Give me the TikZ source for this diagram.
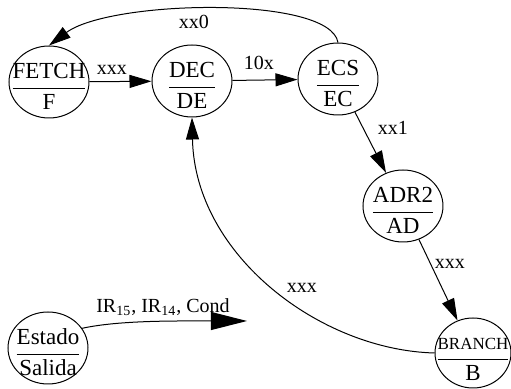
\documentclass[tikz,border=0pt]{standalone}
\usepackage{fontspec}
\setmainfont{Liberation Serif}
\usepackage{tikz}
\usetikzlibrary{shapes.geometric, arrows.meta}

\newcommand{\dosp}[2]{\makebox[0pt]{\raisebox{-6.5pt}[0pt][0pt]{\begin{tabular}{@{}c@{}}#1\\[0.5pt]\hline\rule{0pt}{10.5pt}#2\end{tabular}}}}

\tikzset{
  estado/.style={ellipse, draw, line width=0.5pt, minimum width=40pt, minimum height=36pt, inner sep=0pt, font=\fontsize{11.5}{13}\selectfont},
  etiq/.style={font=\fontsize{10}{12}\selectfont, inner sep=0pt},
  flecha/.style={line width=0.5pt, -{Triangle[length=11pt, width=6.5pt]}}
}

\begin{document}
\begin{tikzpicture}[x=0.5pt, y=-0.5pt]
          \useasboundingbox (0,0) rectangle (511,389);
          \node[estado] (fetch) at (49,82) {\dosp{FETCH}{F}};
          \node[estado] (dec) at (192,81) {\dosp{DEC}{DE}};
          \node[estado] (ecs) at (338,79) {\dosp{ECS}{EC}};
          \node[estado] (adr) at (403,206) {\dosp{ADR2}{AD}};
          \node[estado, minimum width=38pt, minimum height=35pt] (branch) at (473,353) {\dosp{\fontsize{8.5}{10}\selectfont BRANCH}{B}};
          \node[estado] (leyenda) at (48,348) {\dosp{Estado}{Salida}};
          \coordinate (fin) at (247,321);
          \draw[flecha] (fetch) -- (dec);
          \draw[flecha] (dec) -- (ecs);
          \draw[flecha] (ecs.north) .. controls (330,-5) and (110,0) .. (fetch.north);
          \draw[flecha] (ecs) -- (adr);
          \draw[flecha] (adr) -- (branch);
          \draw[flecha] (branch.west) .. controls (320,350) and (195,255) .. (dec.south);
          \draw[line width=0.5pt, -{Triangle[length=18pt, width=9pt]}] (leyenda.30) .. controls (120,320) and (180,321) .. (fin);
          \node[etiq] (lxx0) at (194,22) {xx0};
          \node[etiq] (lfd) at (112,70) {xxx};
          \node[etiq] (l10x) at (259,63) {10x};
          \node[etiq] (lxx1) at (393,128) {xx1};
          \node[etiq] (lab) at (450,264) {xxx};
          \node[etiq] (lbd) at (302,288) {xxx};
          \node[etiq] (lcond) at (163,307) {IR\textsubscript{15}, IR\textsubscript{14}, Cond};
\end{tikzpicture}
\end{document}
